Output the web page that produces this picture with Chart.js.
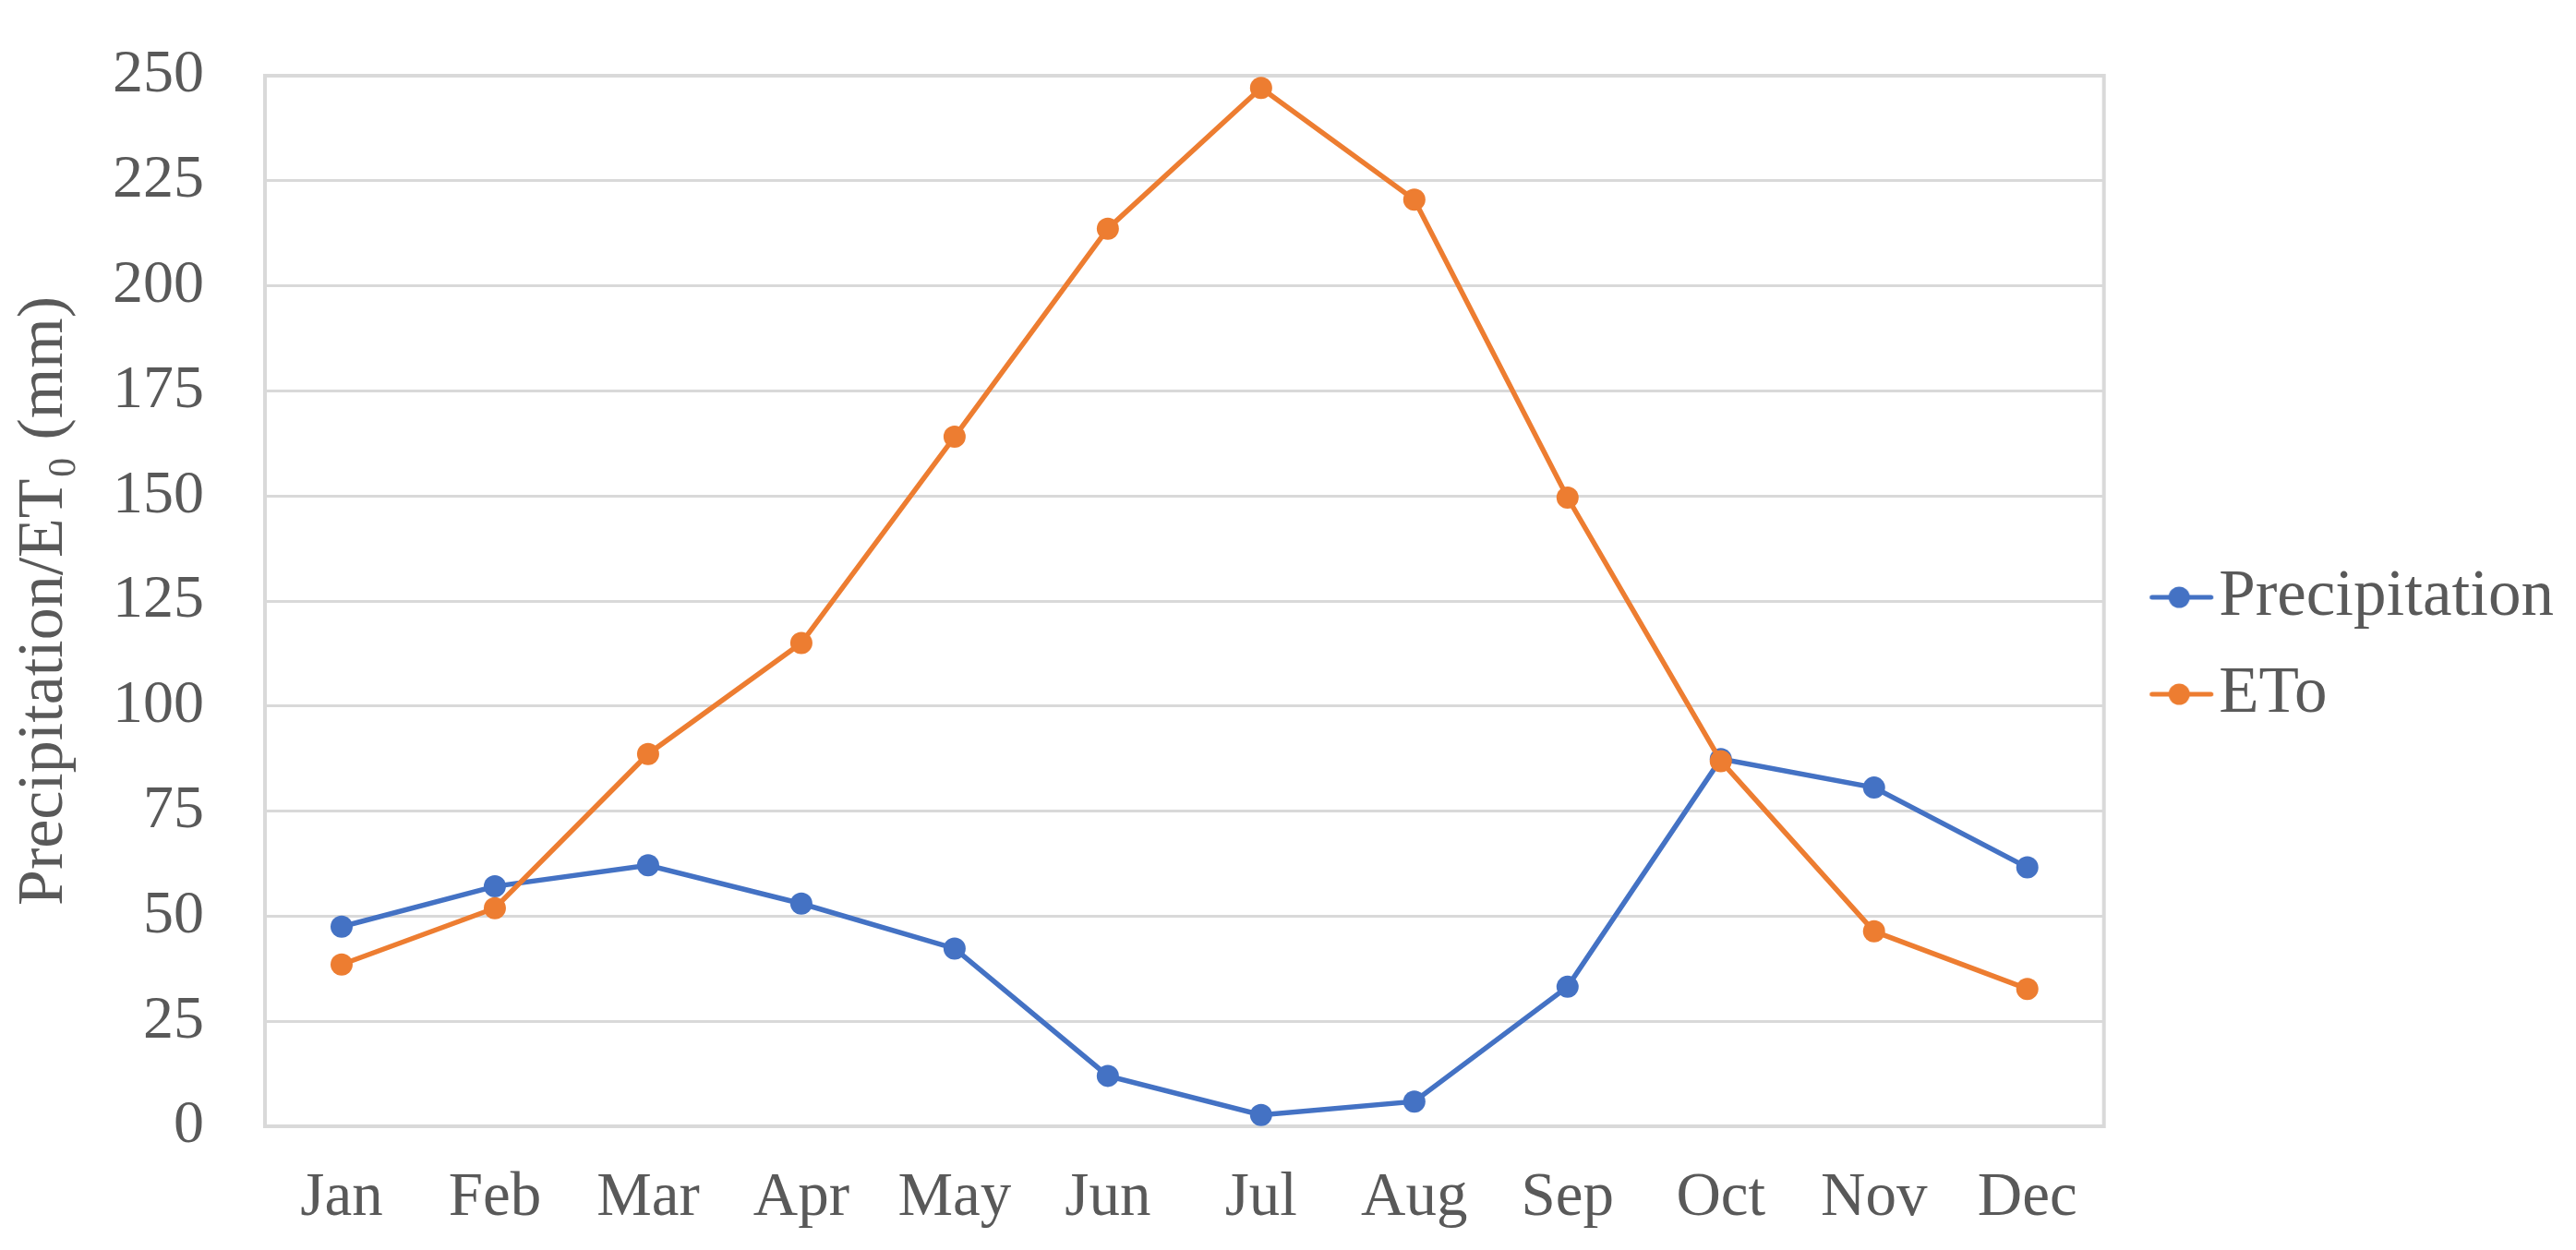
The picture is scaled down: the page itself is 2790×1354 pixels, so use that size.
<!DOCTYPE html>
<html>
<head>
<meta charset="utf-8">
<script src="https://cdn.jsdelivr.net/npm/chart.js@4"></script>
<style>
  html, body { margin: 0; padding: 0; background: #fff; }
  #wrap { width: 2790px; height: 1354px; }
</style>
</head>
<body>
<div id="wrap"><canvas id="chart"></canvas></div>
<script>
const months = ['Jan', 'Feb', 'Mar', 'Apr', 'May', 'Jun', 'Jul', 'Aug', 'Sep', 'Oct', 'Nov', 'Dec'];
const precipitation = [47.5, 57.1, 62.1, 53.0, 42.3, 12.0, 2.7, 5.9, 33.2, 87.4, 80.6, 61.6];
const eto = [38.5, 51.9, 88.6, 115.0, 164.1, 213.6, 247.1, 220.5, 149.6, 86.9, 46.4, 32.7];
const yTicks = [0, 25, 50, 75, 100, 125, 150, 175, 200, 225, 250];

const azul = '#4472C4';
const naranja = '#ED7D31';
const gris = '#595959';
const rejilla = '#D9D9D9';
const fuente = "'Liberation Serif', 'Times New Roman', serif";

// legend marker: short line with a dot, drawn in the right part of the image
function marcador(color) {
    const c = document.createElement('canvas');
    c.width = 118;
    c.height = 28;
    const g = c.getContext('2d');
    g.strokeStyle = color;
    g.lineWidth = 5;
    g.lineCap = 'round';
    g.beginPath();
    g.moveTo(49.5, 14);
    g.lineTo(113.5, 14);
    g.stroke();
    g.fillStyle = color;
    g.beginPath();
    g.arc(79, 14, 11.5, 0, Math.PI * 2);
    g.fill();
    return c;
}
const marcadores = [marcador(azul), marcador(naranja)];

// frame around the plot area
const marco = {
    id: 'marco',
    beforeDatasetsDraw(chart) {
        const {ctx, chartArea: a} = chart;
        ctx.save();
        ctx.strokeStyle = rejilla;
        ctx.lineWidth = 4;
        ctx.strokeRect(a.left, a.top, a.right - a.left, a.bottom - a.top);
        ctx.restore();
    }
};

let datos = {
    labels: months,
    datasets: [
        {
            label: 'Precipitation',
            data: precipitation,
            borderColor: azul,
            backgroundColor: azul,
            borderWidth: 5.5,
            pointRadius: 12,
            pointBorderWidth: 0,
            pointStyle: 'circle',
            tension: 0,
            order: 1,
        },
        {
            label: 'ETo',
            data: eto,
            borderColor: naranja,
            backgroundColor: naranja,
            borderWidth: 5.5,
            pointRadius: 12,
            pointBorderWidth: 0,
            pointStyle: 'circle',
            tension: 0,
            order: 0,
        }
    ]
};

let opciones = {
    responsive: true,
    maintainAspectRatio: false,
    animation: false,
    layout: {
        padding: { top: 67, bottom: 22, left: 0, right: 14 }
    },
    scales: {
        x: {
            offset: true,
            grid: { display: false, drawTicks: false },
            border: { display: false },
            ticks: {
                color: gris,
                padding: 38,
                font: { family: fuente, size: 67 }
            },
            afterFit(axis) {
                axis.height = 112;
            }
        },
        y: {
            min: 0,
            max: 250,
            afterBuildTicks(axis) {
                axis.ticks = yTicks.map(v => ({ value: v }));
            },
            afterFit(axis) {
                axis.width = 287;
            },
            grid: {
                color: rejilla,
                lineWidth: 3,
                drawTicks: false,
            },
            border: { display: false },
            ticks: {
                color: gris,
                padding: 66,
                font: { family: fuente, size: 66, lineHeight: 0.485 }
            },
            title: {
                display: true,
                text: 'Precipitation/ET\u2080 (mm)',
                color: gris,
                padding: { top: 7, bottom: 10 },
                font: { family: fuente, size: 70 }
            }
        }
    },
    plugins: {
        legend: {
            position: 'right',
            align: 'center',
            labels: {
                color: gris,
                usePointStyle: true,
                pointStyleWidth: 55,
                padding: 34,
                font: { family: fuente, size: 71 },
                sort: (a, b) => a.datasetIndex - b.datasetIndex,
                generateLabels(chart) {
                    const items = Chart.defaults.plugins.legend.labels.generateLabels(chart);
                    items.forEach(it => { it.pointStyle = marcadores[it.datasetIndex]; });
                    return items;
                }
            }
        },
        title: { display: false },
        tooltip: { enabled: false }
    }
};

let ctx = document.getElementById('chart').getContext('2d');
let miGrafica = new Chart(ctx, {
    type: 'line',
    data: datos,
    options: opciones,
    plugins: [marco],
});
</script>
</body>
</html>
